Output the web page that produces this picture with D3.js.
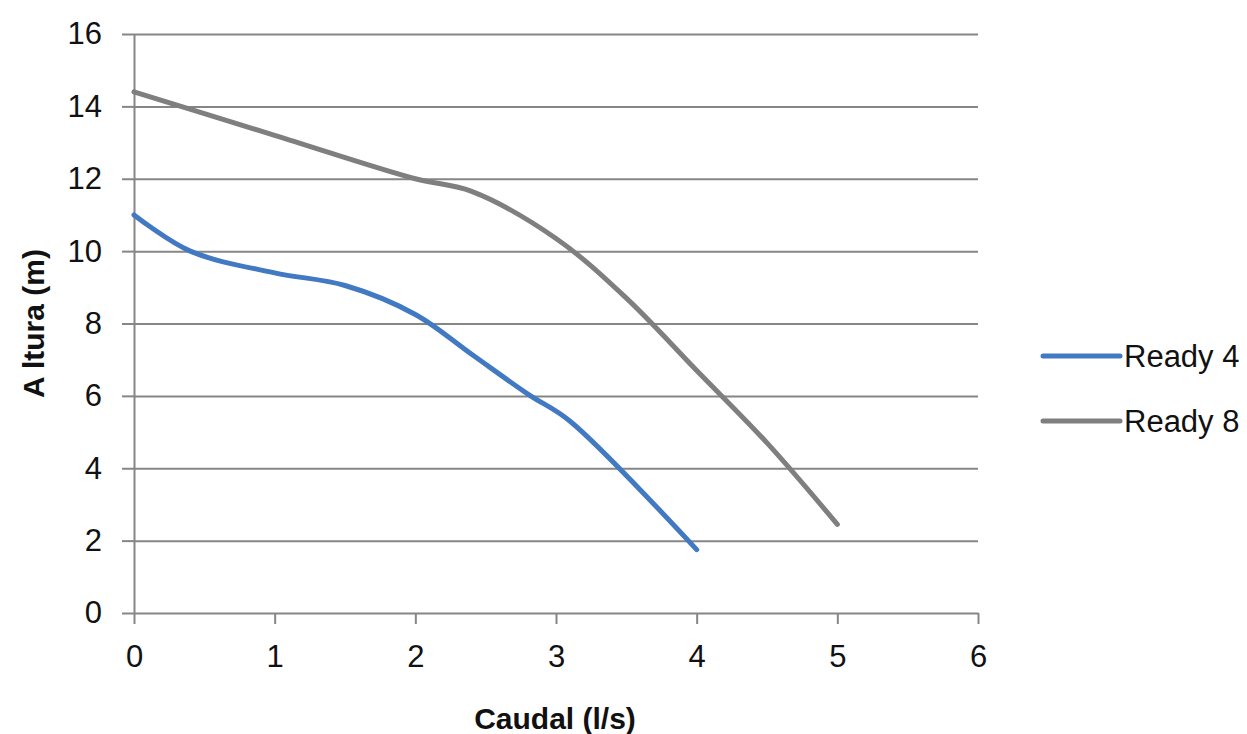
<!DOCTYPE html>
<html lang="pt">
<head>
  <meta charset="UTF-8">
  <title>Curvas Ready 4 / Ready 8</title>
  <style>
    body { margin: 0; background: #fff; }
    .axis text { font-family: "Liberation Sans", Arial, sans-serif; font-size: 31px; fill: #111; }
    .axis path, .axis line { stroke: #868686; stroke-width: 2; }
    .grid line { stroke: #868686; stroke-width: 2; }
    .grid path { display: none; }
    .title { font-family: "Liberation Sans", Arial, sans-serif; font-size: 30px; font-weight: bold; fill: #111; }
    .legend text { font-family: "Liberation Sans", Arial, sans-serif; font-size: 31px; fill: #111; }
  </style>
</head>
<body>
<svg id="chart" width="1247" height="734"></svg>
<script src="https://cdnjs.cloudflare.com/ajax/libs/d3/7.8.5/d3.min.js"></script>
<script>
  // data
  var caudal4 = [0, 0.4, 1, 1.5, 2, 2.4, 2.8, 3.1, 4]
  var altura4 = [11, 10, 9.4, 9.05, 8.25, 7.15, 6.05, 5.3, 1.75]
  var caudal8 = [0, 1, 2, 2.4, 3, 3.5, 4, 4.5, 5]
  var altura8 = [14.4, 13.2, 12, 11.65, 10.35, 8.7, 6.7, 4.7, 2.45]
  var seriesNames = ['Ready 4', 'Ready 8']
  var colors = ['#4279c3', '#7f7f7f']
  var xTicks = [0, 1, 2, 3, 4, 5, 6]
  var yTicks = [0, 2, 4, 6, 8, 10, 12, 14, 16]

  var svg = d3.select('#chart')
  var pad = {left: 134, right: 978, top: 34, bottom: 613}

  var x = d3.scaleLinear().domain([0, 6]).range([pad.left, pad.right])
  var y = d3.scaleLinear().domain([0, 16]).range([pad.bottom, pad.top])

  // horizontal gridlines
  svg.append('g')
    .attr('class', 'grid')
    .attr('transform', 'translate(' + pad.left + ',0)')
    .call(d3.axisLeft(y).tickValues(yTicks.slice(1)).tickSize(-(pad.right - pad.left)).tickFormat(''))

  svg.append('g')
    .attr('class', 'axis')
    .attr('transform', 'translate(0,' + pad.bottom + ')')
    .call(d3.axisBottom(x).tickValues(xTicks).tickFormat(d3.format('d')).tickSize(11).tickSizeOuter(0).tickPadding(21))

  svg.append('g')
    .attr('class', 'axis')
    .attr('transform', 'translate(' + pad.left + ',0)')
    .call(d3.axisLeft(y).tickValues(yTicks).tickFormat(d3.format('d')).tickSize(12).tickSizeOuter(0).tickPadding(20))

  var series = [
    caudal4.map(function (d, i) { return [d, altura4[i]] }),
    caudal8.map(function (d, i) { return [d, altura8[i]] })
  ]

  var line = d3.line()
    .x(function (d) { return x(d[0]) })
    .y(function (d) { return y(d[1]) })
    .curve(d3.curveCatmullRom.alpha(0.5))

  svg.selectAll('.serie')
    .data(series)
    .enter()
    .append('path')
    .attr('class', 'serie')
    .attr('d', line)
    .attr('fill', 'none')
    .attr('stroke', function (d, i) { return colors[i] })
    .attr('stroke-width', 5)
    .attr('stroke-linecap', 'round')
    .attr('stroke-linejoin', 'round')

  // legend
  var legend = svg.append('g').attr('class', 'legend')
  seriesNames.forEach(function (name, i) {
    var ly = 356 + i * 65
    legend.append('line')
      .attr('x1', 1043).attr('x2', 1120)
      .attr('y1', ly).attr('y2', ly)
      .attr('stroke', colors[i])
      .attr('stroke-width', 5)
      .attr('stroke-linecap', 'round')
    legend.append('text')
      .attr('x', 1124).attr('y', ly + 11)
      .text(name)
  })

  // titles
  svg.append('text')
    .attr('class', 'title')
    .attr('x', 555).attr('y', 729)
    .attr('text-anchor', 'middle')
    .text('Caudal (l/s)')

  svg.append('text')
    .attr('class', 'title')
    .attr('transform', 'translate(44,' + (pad.top + pad.bottom) / 2 + ') rotate(-90)')
    .attr('text-anchor', 'middle')
    .text('A ltura (m)')
</script>
</body>
</html>
